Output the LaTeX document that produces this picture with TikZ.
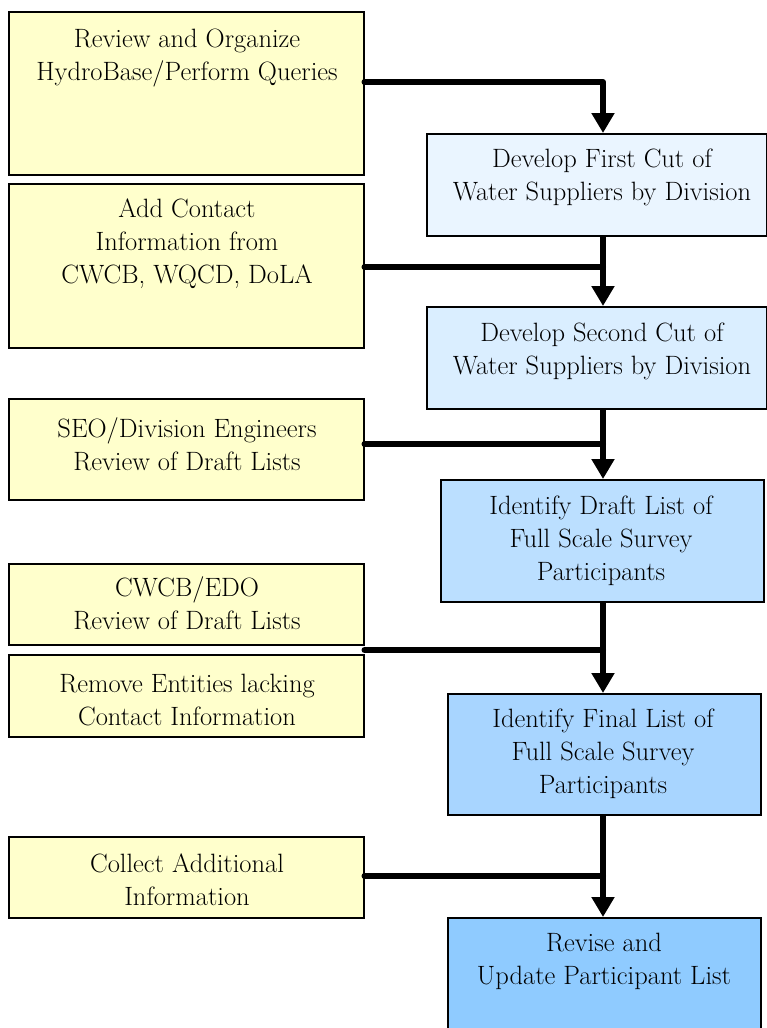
\documentclass[tikz,border=0pt]{standalone}
\usetikzlibrary{arrows.meta,calc}
\definecolor{yel}{HTML}{FFFFCC}
\definecolor{bA}{HTML}{EAF5FF}
\definecolor{bB}{HTML}{DAEEFF}
\definecolor{bC}{HTML}{BBDFFF}
\definecolor{bD}{HTML}{A8D5FF}
\definecolor{bE}{HTML}{8FCBFF}
\tikzset{
  boxbase/.style={draw=black, line width=1.5pt, inner sep=0pt, anchor=north west},
  lbox/.style={boxbase, fill=yel, minimum width=355pt},
  rbox/.style={boxbase},
  txt/.style={align=center, font=\fontsize{26.5}{33}\selectfont, inner sep=0pt},
  feed/.style={line width=6pt, line cap=round, line join=round},
  flow/.style={line width=6pt, -{Triangle[width=22pt,length=20pt]}},
}
\begin{document}
\begin{tikzpicture}[x=1pt,y=-1pt]
\useasboundingbox (0,0) rectangle (766,1028);
% left boxes
\node[lbox, minimum height=163pt] (L1) at (8,11) {};
\node[lbox, minimum height=164pt] (L2) at (8,183) {};
\node[lbox, minimum height=101pt] (L3) at (8,398) {};
\node[lbox, minimum height=81pt] (L4) at (8,563) {};
\node[lbox, minimum height=82pt] (L5) at (8,654) {};
\node[lbox, minimum height=81pt] (L6) at (8,836) {};
% right boxes
\node[rbox, fill=bA, minimum width=340pt, minimum height=102pt] (R1) at (426,133) {};
\node[rbox, fill=bB, minimum width=340pt, minimum height=102pt] (R2) at (426,306) {};
\node[rbox, fill=bC, minimum width=323pt, minimum height=122pt] (R3) at (440,479) {};
\node[rbox, fill=bD, minimum width=313pt, minimum height=121pt] (R4) at (447,693) {};
\node[rbox, fill=bE, minimum width=313pt, minimum height=115pt] (R5) at (447,917) {};
% texts
\node[txt] (tL1) at (187,58) {Review and Organize\\HydroBase/Perform Queries};
\node[txt] (tL2) at (187,244) {Add Contact\\Information from\\CWCB, WQCD, DoLA};
\node[txt] (tL3) at (187,444) {SEO/Division Engineers\\Review of Draft Lists};
\node[txt] (tL4) at (187,603) {CWCB/EDO\\Review of Draft Lists};
\node[txt] (tL5) at (187,700) {Remove Entities lacking\\Contact Information};
\node[txt] (tL6) at (187,880) {Collect Additional\\Information};
\node[txt] (tR1) at (602,177) {Develop First Cut of\\Water Suppliers by Division};
\node[txt] (tR2) at (602,351) {Develop Second Cut of\\Water Suppliers by Division};
\node[txt] (tR3) at (601,541) {Identify Draft List of\\Full Scale Survey\\Participants};
\node[txt] (tR4) at (603,754) {Identify Final List of\\Full Scale Survey\\Participants};
\node[txt] (tR5) at (604,961) {Revise and\\Update Participant List};
% junctions
\coordinate (j1) at (603,82);
\coordinate (j2) at (603,267);
\coordinate (j3) at (603,444);
\coordinate (j4) at (603,650);
\coordinate (j5) at (603,876);
% connectors
\draw[feed] (L1.east |- j1) -- (j1) -- ($(j1 |- R1.north)+(0,-15)$);
\draw[flow] ($(j1 |- R1.north)+(0,-16)$) -- (j1 |- R1.north);
\draw[flow] (R1.south -| j2) -- (R2.north -| j2);
\draw[feed] (L2.east |- j2) -- (j2);
\draw[flow] (R2.south -| j3) -- (R3.north -| j3);
\draw[feed] (L3.east |- j3) -- (j3);
\draw[flow] (R3.south -| j4) -- (R4.north -| j4);
\draw[feed] (L4.east |- j4) -- (j4);
\draw[flow] (R4.south -| j5) -- (R5.north -| j5);
\draw[feed] (L6.east |- j5) -- (j5);
\end{tikzpicture}
\end{document}
